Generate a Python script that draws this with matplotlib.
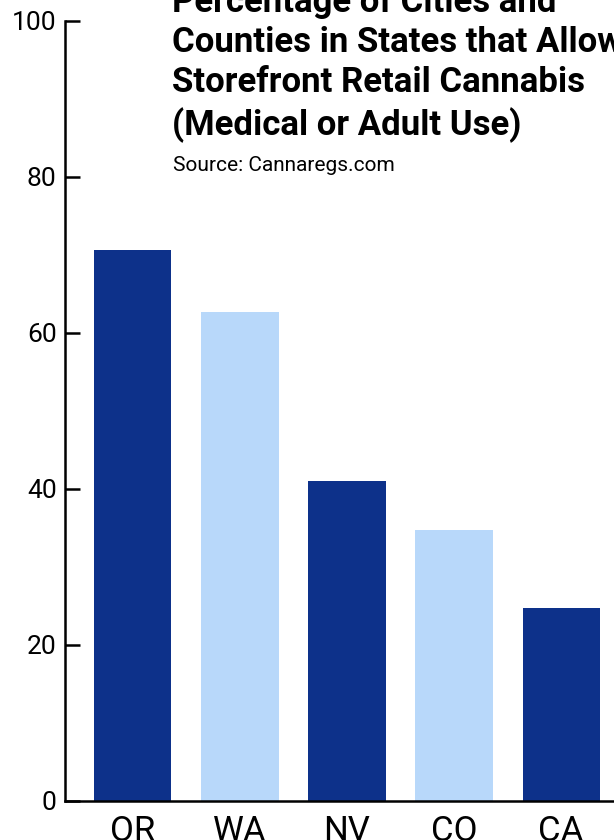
import matplotlib
matplotlib.use("Agg")
import matplotlib.pyplot as plt

states = ["OR", "WA", "NV", "CO", "CA"]
pct_allow = [70.6, 62.7, 41.0, 34.7, 24.7]
bar_colors = ["#0d318a", "#b8d8fa", "#0d318a", "#b8d8fa", "#0d318a"]

TITLE = ("Percentage of Cities and\nCounties in States that Allow\n"
         "Storefront Retail Cannabis\n(Medical or Adult Use)")
SOURCE = "Source: Cannaregs.com"

plt.rcParams["font.family"] = ["Roboto", "DejaVu Sans"]

fig = plt.figure(figsize=(6.14, 8.4), dpi=100)
# axes run past the right/bottom edge, as in the reference (clipped)
ax = fig.add_axes([65 / 614, (840 - 801) / 840, (629 - 65) / 614, 780 / 840])

x = range(len(states))
ax.bar(x, pct_allow, width=0.72, color=bar_colors)

ax.set_xlim(-0.635, 4.635)
ax.set_ylim(0, 100)
ax.set_yticks([0, 20, 40, 60, 80, 100])
ax.set_xticks(list(x))
ax.set_xticklabels(states)

for s in ["top", "right"]:
    ax.spines[s].set_visible(False)
for s in ["left", "bottom"]:
    ax.spines[s].set_linewidth(1.8)

ax.tick_params(axis="y", direction="in", length=11, width=1.8, labelsize=19, pad=6)
ax.tick_params(axis="x", length=0, labelsize=25, pad=10)

fig.text(172 / 614, 1 - 135 / 840, TITLE, fontsize=25, fontweight="bold",
         ha="left", va="baseline", linespacing=1.28)
fig.text(173 / 614, 1 - 171 / 840, SOURCE, fontsize=15, ha="left", va="baseline")

fig.savefig("out.png", dpi=100)
